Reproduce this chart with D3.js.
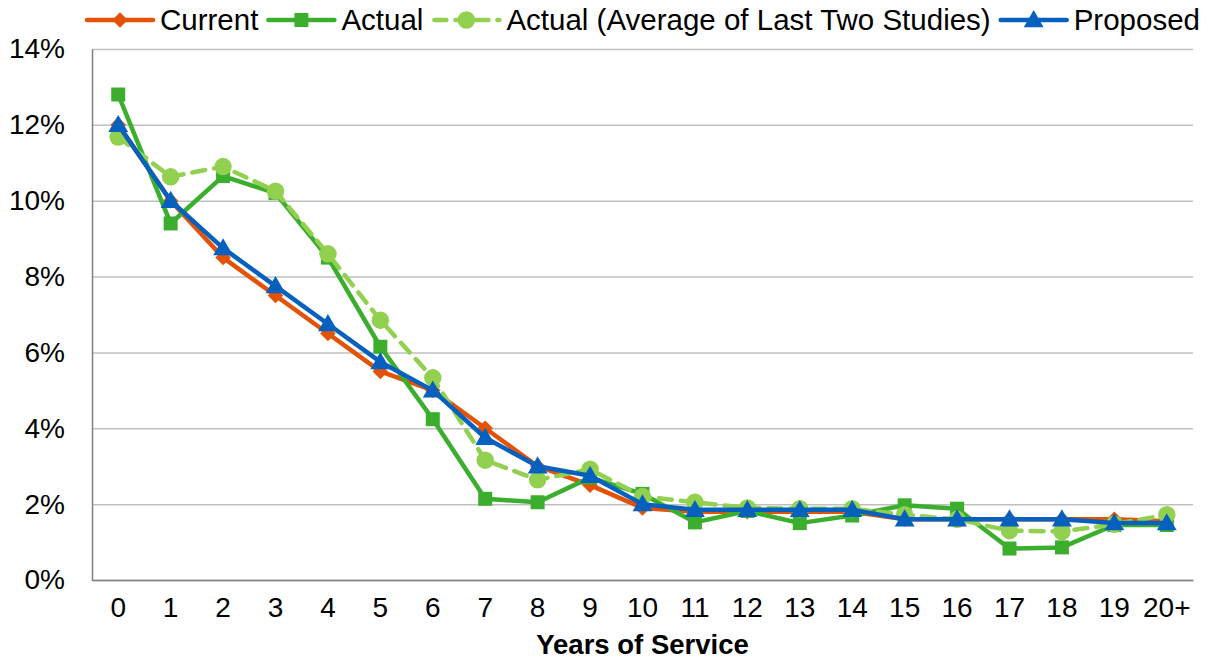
<!DOCTYPE html>
<html>
<head>
<meta charset="utf-8">
<script src="https://cdn.jsdelivr.net/npm/d3@7"></script>
<style>
  body { margin: 0; background: #fff; }
  svg { display: block; font-family: "Liberation Sans", Arial, sans-serif; }
</style>
</head>
<body>
<svg width="1214" height="660"></svg>
<script>
// categories and series (percent values)
var years = ["0","1","2","3","4","5","6","7","8","9","10","11","12","13","14","15","16","17","18","19","20+"]
var current = [12.0,10.0,8.5,7.5,6.5,5.5,5.0,4.0,3.0,2.5,1.9,1.8,1.8,1.8,1.8,1.6,1.6,1.6,1.6,1.6,1.55]
var actual = [12.8,9.4,10.65,10.2,8.5,6.15,4.24,2.14,2.05,2.7,2.27,1.52,1.82,1.5,1.7,1.97,1.88,0.83,0.86,1.45,1.45]
var actualAvg = [11.68,10.63,10.9,10.25,8.6,6.85,5.33,3.16,2.64,2.92,2.2,2.05,1.9,1.88,1.88,1.72,1.6,1.3,1.28,1.47,1.72]
var proposed = [12.0,10.0,8.75,7.75,6.75,5.75,5.0,3.75,3.0,2.75,2.0,1.85,1.85,1.85,1.85,1.6,1.6,1.6,1.6,1.5,1.5]
var yTicks = [0,2,4,6,8,10,12,14]

var series = [
  { name: "Current", values: current, color: "#E35205", marker: "diamond", dash: null },
  { name: "Actual", values: actual, color: "#3CAE2E", marker: "square", dash: null },
  { name: "Actual (Average of Last Two Studies)", values: actualAvg, color: "#92D050", marker: "circle", dash: "13,9" },
  { name: "Proposed", values: proposed, color: "#0560BE", marker: "triangle", dash: null }
]

var svg = d3.select("svg"),
	margin = { top: 49, right: 21, bottom: 80, left: 92 },
	width = +svg.attr("width") - margin.left - margin.right,
	height = +svg.attr("height") - margin.top - margin.bottom

var x = d3.scaleBand().domain(years).range([0, width]).padding(0),
	y = d3.scaleLinear().domain([0, 14]).range([height, 0])

var cx = function(d, i) { return x(years[i]) + x.bandwidth() / 2 }

var g = svg.append("g")
	.attr("transform", "translate(" + margin.left + "," + margin.top + ")")

// gridlines
g.append("g")
	.attr("class", "grid")
	.call(d3.axisLeft(y).tickValues(yTicks).tickSize(-width).tickFormat(""))
	.call(function(s) {
		s.select(".domain").remove()
		s.selectAll("line").attr("stroke", "#BFBFBF").attr("stroke-width", 1.5)
	})

// y axis labels
g.append("g")
	.call(d3.axisLeft(y).tickValues(yTicks).tickSize(0).tickPadding(27).tickFormat(function(d) { return d + "%" }))
	.call(function(s) {
		s.select(".domain").attr("stroke", "#7F7F7F").attr("stroke-width", 1.5)
		s.selectAll("text").attr("font-size", 28).attr("fill", "#000").attr("font-family", "Liberation Sans, Arial, sans-serif")
	})

// x axis
g.append("g")
	.attr("transform", "translate(0," + height + ")")
	.call(d3.axisBottom(x).tickSize(0).tickPadding(17))
	.call(function(s) {
		s.select(".domain").attr("stroke", "#7F7F7F").attr("stroke-width", 1.5)
		s.selectAll("text").attr("font-size", 28).attr("fill", "#000").attr("font-family", "Liberation Sans, Arial, sans-serif")
	})

svg.append("text")
	.attr("x", margin.left + width / 2)
	.attr("y", 654)
	.attr("text-anchor", "middle")
	.attr("font-size", 27.5)
	.attr("font-weight", "bold")
	.text("Years of Service")

// marker shapes
var diamond = {
	draw: function(context, size) {
		var r = Math.sqrt(size / 2)
		context.moveTo(0, -r)
		context.lineTo(r, 0)
		context.lineTo(0, r)
		context.lineTo(-r, 0)
		context.closePath()
	}
}
function symbolFor(m) {
	if (m === "diamond") return d3.symbol().type(diamond).size(120)
	if (m === "square") return d3.symbol().type(d3.symbolSquare).size(196)
	if (m === "circle") return d3.symbol().type(d3.symbolCircle).size(240)
	return d3.symbol().type(d3.symbolTriangle).size(170)
}

var line = d3.line()
	.x(cx)
	.y(function(d) { return y(d) })

series.forEach(function(s) {
	var sg = g.append("g").attr("class", "series")
	sg.append("path")
		.datum(s.values)
		.attr("fill", "none")
		.attr("stroke", s.color)
		.attr("stroke-width", 4.5)
		.attr("stroke-linejoin", "round")
		.attr("stroke-linecap", s.dash ? "round" : "butt")
		.attr("stroke-dasharray", s.dash)
		.attr("d", line)

	sg.selectAll(".pt")
		.data(s.values)
		.enter().append("path")
			.attr("class", "pt")
			.attr("fill", s.color)
			.attr("transform", function(d, i) {
				var dy = s.marker === "triangle" ? 1.5 : 0
				return "translate(" + cx(d, i) + "," + (y(d) + dy) + ")"
			})
			.attr("d", symbolFor(s.marker))
})

// legend laid out left to right
var legend = svg.append("g").attr("class", "legend")
var lx = 87, ly = 20
series.forEach(function(s) {
	var item = legend.append("g").attr("transform", "translate(" + lx + "," + ly + ")")
	item.append("line")
		.attr("x1", 0).attr("x2", 66).attr("y1", 0).attr("y2", 0)
		.attr("stroke", s.color)
		.attr("stroke-width", 4.5)
		.attr("stroke-linecap", "round")
		.attr("stroke-dasharray", s.dash ? "12,9" : null)
		.attr("stroke-dashoffset", s.dash ? -1 : null)
	item.append("path")
		.attr("transform", "translate(33," + (s.marker === "triangle" ? 1.5 : 0) + ")")
		.attr("fill", s.color)
		.attr("d", symbolFor(s.marker))
	var t = item.append("text")
		.attr("x", 73)
		.attr("y", 10)
		.attr("font-size", 29.5)
		.attr("fill", "#000")
		.text(s.name)
	lx += 73 + t.node().getComputedTextLength() + 10
})
</script>
</body>
</html>
